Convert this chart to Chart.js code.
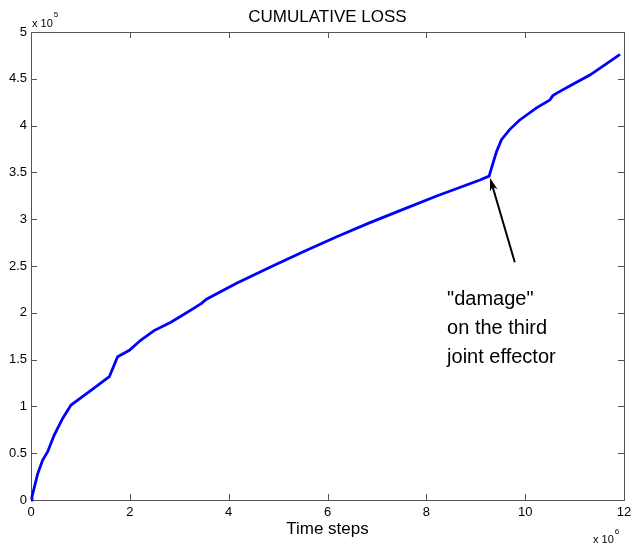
<!DOCTYPE html>
<html><head><meta charset="utf-8">
<script src="https://cdn.jsdelivr.net/npm/chart.js@4.4.0/dist/chart.umd.min.js"></script>
<style>html,body{margin:0;padding:0;background:#fff;}</style>
</head><body>
<canvas id="c" width="634" height="547" style="width:634px;height:547px;display:block"></canvas>
<script>
// Time steps, in units of 10^6
const timeSteps = [0, 0.02, 0.135, 0.236, 0.337, 0.47, 0.64, 0.81, 1.18, 1.45, 1.585, 1.753, 1.99, 2.225, 2.49, 2.83, 3.015, 3.30, 3.45, 3.55, 4.16, 4.836, 5.51, 6.186, 6.86, 7.53, 8.21, 9.085, 9.27, 9.355, 9.42, 9.52, 9.69, 9.89, 10.23, 10.50, 10.56, 10.65, 10.91, 11.31, 11.92];
// Cumulative loss, in units of 10^5
const cumulativeLoss = [0, 0.035, 0.28, 0.427, 0.516, 0.694, 0.872, 1.015, 1.157, 1.264, 1.317, 1.531, 1.60, 1.709, 1.81, 1.90, 1.958, 2.05, 2.10, 2.145, 2.315, 2.486, 2.653, 2.813, 2.963, 3.105, 3.248, 3.419, 3.46, 3.61, 3.72, 3.85, 3.96, 4.06, 4.19, 4.275, 4.32, 4.35, 4.425, 4.54, 4.76];
const xTicks = [0, 2, 4, 6, 8, 10, 12];
const yTicks = [0, 0.5, 1, 1.5, 2, 2.5, 3, 3.5, 4, 4.5, 5];
const chartTitle = 'CUMULATIVE LOSS';
const xAxisLabel = 'Time steps';
const xExponent = '6';
const yExponent = '5';
const annotationLines = ['"damage"', 'on the third', 'joint effector'];
const annotationTip = [9.29, 3.44];
const annotationTail = [9.79, 2.54];
const annotationTextAt = [8.42, 2.14];

const FONT = '"Liberation Sans", Arial, Helvetica, sans-serif';
Chart.defaults.font.family = FONT;
Chart.defaults.color = '#000';

const points = timeSteps.map((t, i) => ({x: t, y: cumulativeLoss[i]}));

const frame = {
  id: 'frame',
  beforeDatasetsDraw(chart) {
    const {ctx, chartArea: a, scales: {x, y}} = chart;
    ctx.save();
    ctx.strokeStyle = '#555';
    ctx.lineWidth = 1;
    ctx.strokeRect(Math.round(a.left) + 0.5, Math.round(a.top) + 0.5, Math.round(a.right - a.left), Math.round(a.bottom - a.top));
    ctx.beginPath();
    const L = 6;
    xTicks.forEach(v => {
      const p = Math.round(x.getPixelForValue(v)) + 0.5;
      ctx.moveTo(p, a.bottom); ctx.lineTo(p, a.bottom - L);
      ctx.moveTo(p, a.top); ctx.lineTo(p, a.top + L);
    });
    yTicks.forEach(v => {
      const p = Math.round(y.getPixelForValue(v)) + 0.5;
      ctx.moveTo(a.left, p); ctx.lineTo(a.left + L, p);
      ctx.moveTo(a.right, p); ctx.lineTo(a.right - L, p);
    });
    ctx.stroke();
    ctx.restore();
  },
  afterDraw(chart) {
    const {ctx, chartArea: a, scales: {x, y}} = chart;
    ctx.save();
    ctx.fillStyle = '#000';
    ctx.textBaseline = 'alphabetic';
    ctx.textAlign = 'left';
    // y exponent
    ctx.font = '11px ' + FONT;
    ctx.fillText('x 10', a.left + 1, a.top - 5);
    let w = ctx.measureText('x 10').width;
    ctx.font = '8px ' + FONT;
    ctx.fillText(yExponent, a.left + 2 + w, a.top - 15);
    // x exponent
    ctx.font = '11px ' + FONT;
    ctx.fillText('x 10', a.right - 31, 543);
    w = ctx.measureText('x 10').width;
    ctx.font = '8px ' + FONT;
    ctx.fillText(xExponent, a.right - 30 + w, 534);
    // annotation arrow
    const tx = x.getPixelForValue(annotationTip[0]), ty = y.getPixelForValue(annotationTip[1]);
    const sx = x.getPixelForValue(annotationTail[0]), sy = y.getPixelForValue(annotationTail[1]);
    const ang = Math.atan2(ty - sy, tx - sx);
    const c = Math.cos(ang), s = Math.sin(ang);
    ctx.strokeStyle = '#000';
    ctx.lineWidth = 2;
    ctx.beginPath();
    ctx.moveTo(sx, sy);
    ctx.lineTo(tx - 8 * c, ty - 8 * s);
    ctx.stroke();
    ctx.beginPath();
    ctx.moveTo(tx, ty);
    ctx.lineTo(tx - 13 * c + 4 * s, ty - 13 * s - 4 * c);
    ctx.lineTo(tx - 9 * c, ty - 9 * s);
    ctx.lineTo(tx - 13 * c - 4 * s, ty - 13 * s + 4 * c);
    ctx.closePath();
    ctx.fill();
    // annotation text
    ctx.font = '20px ' + FONT;
    ctx.textBaseline = 'middle';
    const ax = x.getPixelForValue(annotationTextAt[0]), ay = y.getPixelForValue(annotationTextAt[1]);
    annotationLines.forEach((str, i) => ctx.fillText(str, ax, ay + i * 29));
    ctx.restore();
  }
};

new Chart(document.getElementById('c'), {
  type: 'line',
  data: {
    datasets: [{
      data: points,
      borderColor: '#0000ff',
      borderWidth: 2.8,
      pointRadius: 0,
      tension: 0,
      fill: false,
      clip: 4
    }]
  },
  options: {
    responsive: false,
    animation: false,
    devicePixelRatio: 1,
    layout: {padding: {left: 0, right: 10, top: 0, bottom: 0}},
    plugins: {
      legend: {display: false},
      tooltip: {enabled: false},
      title: {
        display: true,
        fullSize: false,
        text: chartTitle,
        color: '#000',
        font: {size: 17, weight: 'normal'},
        padding: {top: 7, bottom: 4.6}
      }
    },
    scales: {
      x: {
        type: 'linear',
        min: 0, max: 12,
        afterBuildTicks(sc) { sc.ticks = xTicks.map(v => ({value: v})); },
        afterFit(sc) { sc.height = 47; sc.paddingLeft = 0; sc.paddingRight = 0; },
        ticks: {autoSkip: false, maxRotation: 0, padding: 5, font: {size: 13}, color: '#000', callback: v => String(v)},
        grid: {display: false, drawTicks: false},
        border: {display: false},
        title: {display: true, text: xAxisLabel, color: '#000', font: {size: 17}, padding: {top: 0, bottom: 7}}
      },
      y: {
        min: 0, max: 5,
        afterBuildTicks(sc) { sc.ticks = yTicks.map(v => ({value: v})); },
        afterFit(sc) { sc.width = 31; sc.paddingTop = 0; sc.paddingBottom = 0; },
        ticks: {autoSkip: false, padding: 4, font: {size: 13}, color: '#000', callback: v => String(v)},
        grid: {display: false, drawTicks: false},
        border: {display: false}
      }
    }
  },
  plugins: [frame]
});
</script>
</body></html>
